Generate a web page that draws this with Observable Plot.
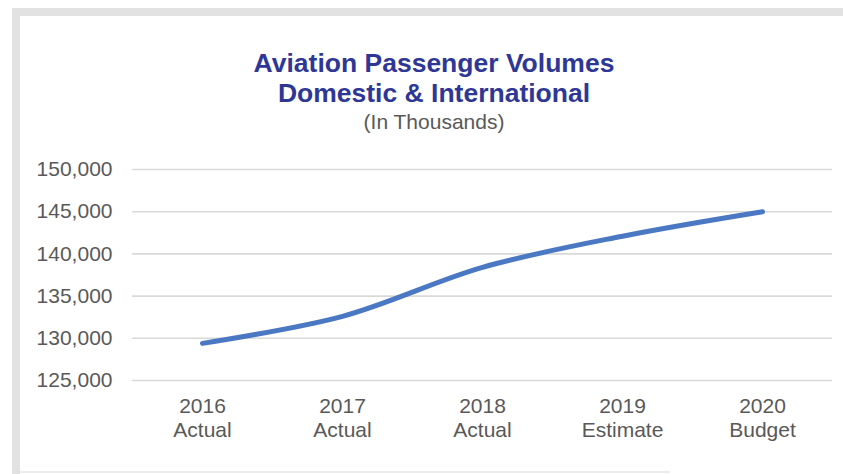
<!DOCTYPE html>
<html>
<head>
<meta charset="utf-8">
<script src="https://cdn.jsdelivr.net/npm/d3@7"></script>
<script src="https://cdn.jsdelivr.net/npm/@observablehq/plot@0.6"></script>
<style>
  html, body { margin: 0; padding: 0; background: #fff; }
  body { width: 843px; height: 474px; position: relative; overflow: hidden; font-family: "Liberation Sans", Arial, sans-serif; }
  #frameTop { position: absolute; left: 12px; top: 8px; width: 831px; height: 8px; background: #e2e2e2; }
  #frameLeft { position: absolute; left: 12px; top: 8px; width: 8px; height: 466px; background: #e2e2e2; }
  #frameBottom { position: absolute; left: 20px; top: 471px; width: 650px; height: 2px; background: #ececec; }
  .title { position: absolute; left: 0; width: 868px; text-align: center; font-weight: bold; color: #2f3796; font-size: 26.5px; line-height: 28px; }
  #t1 { top: 49px; }
  #t2 { top: 79px; }
  #sub { position: absolute; left: 0; width: 868px; text-align: center; color: #595959; font-size: 21px; top: 111px; line-height: 22px; }
  #chart { position: absolute; left: 0; top: 140px; }
</style>
</head>
<body>
<div id="frameTop"></div>
<div id="frameLeft"></div>
<div id="frameBottom"></div>
<div class="title" id="t1">Aviation Passenger Volumes</div>
<div class="title" id="t2">Domestic &amp; International</div>
<div id="sub">(In Thousands)</div>
<div id="chart"></div>
<script>
const years = ["2016", "2017", "2018", "2019", "2020"];
const stages = ["Actual", "Actual", "Actual", "Estimate", "Budget"];
const passengers = [129400, 132600, 138400, 142100, 145000];
const yTicks = [125000, 130000, 135000, 140000, 145000, 150000];

const data = years.map((y, i) => ({year: y, stage: stages[i], value: passengers[i]}));
const labelOf = new Map(years.map((y, i) => [y, y + "\n" + stages[i]]));

const plot = Plot.plot({
  width: 843,
  height: 334,
  marginLeft: 132,
  marginRight: 11,
  marginTop: 29,
  marginBottom: 94,
  style: {background: "transparent", overflow: "visible"},
  x: {type: "point", domain: years, padding: 0.5, label: null},
  y: {domain: [125000, 150000], ticks: yTicks, label: null},
  marks: [
    Plot.ruleY(yTicks, {stroke: "#d9d9d9", strokeWidth: 1.6}),
    Plot.axisY({ticks: yTicks, tickSize: 0, tickPadding: 20, label: null,
      tickFormat: d => d3.format(",")(d),
      fontSize: 21, fill: "#595959", fontFamily: "Liberation Sans, Arial, sans-serif"}),
    Plot.axisX({tickSize: 0, tickPadding: 15, label: null,
      tickFormat: d => labelOf.get(d), lineHeight: 1.15,
      fontSize: 21, fill: "#595959", fontFamily: "Liberation Sans, Arial, sans-serif"}),
    Plot.line(data, {x: "year", y: "value", stroke: "#4a78c2", strokeWidth: 5,
      strokeLinecap: "round", strokeLinejoin: "round", curve: "catmull-rom"})
  ]
});
document.getElementById("chart").appendChild(plot);
</script>
</body>
</html>
